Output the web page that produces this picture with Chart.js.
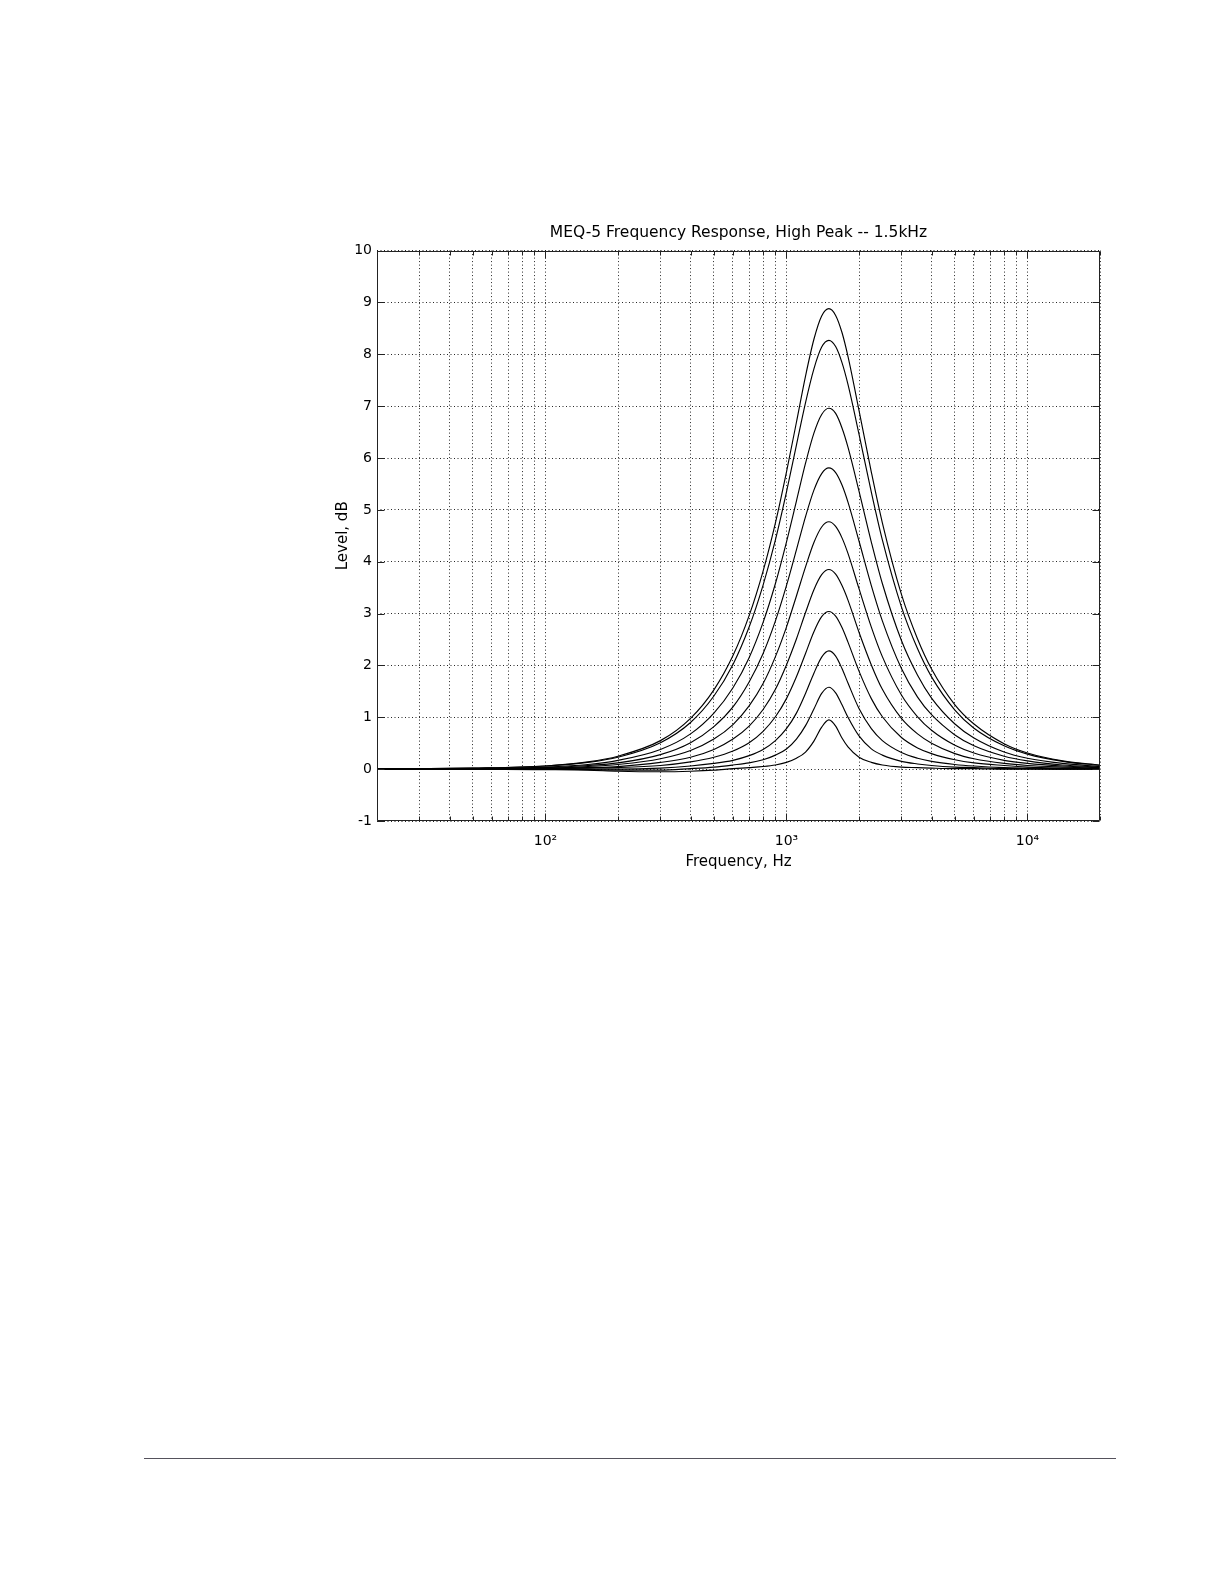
<!DOCTYPE html>
<html><head><meta charset="utf-8">
<script src="https://cdn.jsdelivr.net/npm/chart.js@4.4.1/dist/chart.umd.min.js"></script>
<style>
html,body{margin:0;padding:0;background:#fff;}
body{width:1224px;height:1584px;position:relative;overflow:hidden;}
#c{position:absolute;left:0;top:0;}
#rule{position:absolute;left:144px;top:1458px;width:972px;height:1px;background:#55525c;}
</style></head><body>
<canvas id="c" width="1224" height="900"></canvas>
<div id="rule"></div>
<script>
const frequencies = [20, 50, 100, 150, 200, 300, 400, 500, 600, 700, 800, 900, 1000, 1100, 1200, 1300, 1400, 1500, 1600, 1700, 1800, 2000, 2250, 2500, 3000, 3500, 4000, 5000, 6000, 8000, 10000, 14000, 20000];

// Level (dB) of each boost setting
const level1  = [0.00, 0.02, 0.06, 0.14, 0.25, 0.55, 0.98, 1.53, 2.19, 2.96, 3.82, 4.75, 5.73, 6.69, 7.58, 8.29, 8.74, 8.88, 8.75, 8.42, 7.96, 6.92, 5.73, 4.75, 3.37, 2.51, 1.93, 1.24, 0.87, 0.49, 0.31, 0.16, 0.08];
const level2  = [0.00, 0.02, 0.06, 0.13, 0.23, 0.51, 0.90, 1.41, 2.02, 2.74, 3.55, 4.42, 5.34, 6.25, 7.07, 7.72, 8.14, 8.27, 8.15, 7.84, 7.42, 6.46, 5.34, 4.42, 3.13, 2.32, 1.78, 1.14, 0.79, 0.45, 0.29, 0.15, 0.07];
const level3  = [0.00, 0.01, 0.04, 0.09, 0.17, 0.38, 0.68, 1.08, 1.57, 2.15, 2.83, 3.58, 4.38, 5.17, 5.90, 6.48, 6.84, 6.96, 6.86, 6.58, 6.21, 5.36, 4.38, 3.58, 2.48, 1.81, 1.37, 0.87, 0.60, 0.33, 0.21, 0.11, 0.05];
const level4  = [0.00, 0.01, 0.03, 0.07, 0.12, 0.28, 0.51, 0.82, 1.20, 1.68, 2.23, 2.86, 3.54, 4.23, 4.87, 5.38, 5.70, 5.81, 5.72, 5.48, 5.15, 4.40, 3.54, 2.86, 1.94, 1.39, 1.05, 0.66, 0.45, 0.25, 0.16, 0.08, 0.04];
const level5  = [0.00, 0.01, 0.02, 0.05, 0.09, 0.20, 0.36, 0.58, 0.86, 1.22, 1.65, 2.17, 2.74, 3.34, 3.90, 4.37, 4.67, 4.77, 4.68, 4.46, 4.16, 3.48, 2.74, 2.17, 1.43, 1.01, 0.75, 0.46, 0.31, 0.17, 0.11, 0.06, 0.03];
const level6  = [0.00, 0.00, 0.01, 0.03, 0.05, 0.13, 0.23, 0.38, 0.58, 0.83, 1.15, 1.54, 2.01, 2.51, 3.02, 3.46, 3.75, 3.85, 3.76, 3.54, 3.26, 2.64, 2.01, 1.54, 0.98, 0.68, 0.50, 0.30, 0.20, 0.11, 0.07, 0.04, 0.02];
const level7  = [0.00, 0.00, 0.01, 0.02, 0.03, 0.07, 0.14, 0.23, 0.35, 0.51, 0.73, 1.01, 1.36, 1.78, 2.23, 2.65, 2.94, 3.04, 2.95, 2.73, 2.45, 1.89, 1.36, 1.01, 0.61, 0.41, 0.30, 0.18, 0.12, 0.07, 0.04, 0.02, 0.01];
const level8  = [0.00, 0.00, 0.00, 0.00, 0.00, 0.02, 0.06, 0.11, 0.17, 0.26, 0.38, 0.55, 0.78, 1.08, 1.46, 1.85, 2.16, 2.28, 2.18, 1.94, 1.66, 1.17, 0.78, 0.55, 0.32, 0.21, 0.15, 0.09, 0.06, 0.03, 0.02, 0.01, 0.01];
const level9  = [0.00, 0.00, 0.00, -0.01, -0.02, -0.02, 0.01, 0.04, 0.08, 0.12, 0.18, 0.27, 0.39, 0.58, 0.84, 1.16, 1.46, 1.58, 1.47, 1.24, 1.00, 0.64, 0.39, 0.27, 0.15, 0.10, 0.07, 0.04, 0.03, 0.01, 0.01, 0.00, 0.00];
const level10 = [0.00, 0.00, -0.01, -0.02, -0.04, -0.05, -0.04, -0.02, 0.01, 0.03, 0.05, 0.08, 0.13, 0.21, 0.33, 0.54, 0.81, 0.95, 0.83, 0.60, 0.43, 0.23, 0.13, 0.08, 0.04, 0.03, 0.02, 0.01, 0.01, 0.00, 0.00, 0.00, 0.00];

// Axis ticks
const yTickValues = [-1, 0, 1, 2, 3, 4, 5, 6, 7, 8, 9, 10];
const xMajorTicks = [100, 1000, 10000];
const xMajorLabels = ['10²', '10³', '10⁴'];
const xMinorTicks = [20, 30, 40, 50, 60, 70, 80, 90, 200, 300, 400, 500, 600, 700, 800, 900, 2000, 3000, 4000, 5000, 6000, 7000, 8000, 9000, 20000];

const titleText = 'MEQ-5 Frequency Response, High Peak -- 1.5kHz';
const xTitle = 'Frequency, Hz';
const yTitle = 'Level, dB';

const series = [level1, level2, level3, level4, level5, level6, level7, level8, level9, level10];
const allXTicks = [...xMinorTicks, ...xMajorTicks].sort((a, b) => a - b);
const FONT = '"DejaVu Sans", "Liberation Sans", Arial, sans-serif';

const frame = {
  id: 'frame',
  afterDraw(chart) {
    const {ctx, chartArea: a, scales: {x, y}} = chart;
    const L = Math.round(a.left) + 0.5, R = Math.round(a.right) - 0.5;
    const T = Math.round(a.top) + 0.5, B = Math.round(a.bottom) - 0.5;
    ctx.save();
    ctx.strokeStyle = '#222';
    ctx.lineWidth = 1;
    ctx.setLineDash([]);
    ctx.beginPath();
    ctx.rect(L, T, R - L, B - T);
    allXTicks.forEach(v => {
      const p = Math.round(x.getPixelForValue(v)) + 0.5;
      const len = xMajorTicks.includes(v) ? 7 : 4;
      ctx.moveTo(p, B); ctx.lineTo(p, B - len);
      ctx.moveTo(p, T); ctx.lineTo(p, T + len);
    });
    yTickValues.forEach(v => {
      const p = Math.round(y.getPixelForValue(v)) + 0.5;
      ctx.moveTo(L, p); ctx.lineTo(L + 7, p);
      ctx.moveTo(R, p); ctx.lineTo(R - 7, p);
    });
    ctx.stroke();
    ctx.restore();
  }
};

new Chart(document.getElementById('c'), {
  type: 'line',
  data: {
    datasets: series.map((s, k) => ({
      label: 'Setting ' + (k + 1),
      data: frequencies.map((f, i) => ({x: f, y: s[i]})),
      borderColor: '#000',
      borderWidth: 1.15,
      pointRadius: 0,
      fill: false,
      cubicInterpolationMode: 'monotone'
    }))
  },
  options: {
    responsive: false,
    animation: false,
    events: [],
    layout: {padding: {left: 300, right: 124, top: 222, bottom: 0}},
    plugins: {
      legend: {display: false},
      tooltip: {enabled: false},
      title: {
        display: true, text: titleText, fullSize: false, color: '#000',
        font: {family: FONT, size: 15.5, weight: 'normal'},
        padding: {top: 2, bottom: 8}
      }
    },
    scales: {
      x: {
        type: 'logarithmic', min: 20, max: 20000,
        afterBuildTicks: s => { s.ticks = allXTicks.map(v => ({value: v})); },
        afterFit: s => { s.height = 79; },
        ticks: {
          autoSkip: false, maxRotation: 0, minRotation: 0, padding: 12, color: '#000',
          font: {family: FONT, size: 14},
          callback: v => { const i = xMajorTicks.indexOf(v); return i >= 0 ? xMajorLabels[i] : ''; }
        },
        grid: {drawTicks: false, color: 'rgba(0,0,0,0.85)', lineWidth: 1},
        border: {display: false, dash: [1, 2.5]},
        title: {display: true, text: xTitle, color: '#000', font: {family: FONT, size: 15}, padding: {top: 0, bottom: 29}}
      },
      y: {
        type: 'linear', min: -1, max: 10,
        afterBuildTicks: s => { s.ticks = yTickValues.map(v => ({value: v})); },
        afterFit: s => { s.width = 77; },
        ticks: {padding: 5, color: '#000', font: {family: FONT, size: 14}, callback: v => String(v)},
        grid: {drawTicks: false, color: 'rgba(0,0,0,0.85)', lineWidth: 1},
        border: {display: false, dash: [1, 2.5]},
        title: {display: true, text: yTitle, color: '#000', font: {family: FONT, size: 15}, padding: {top: 34, bottom: 0}}
      }
    }
  },
  plugins: [frame]
});
</script>
</body></html>
